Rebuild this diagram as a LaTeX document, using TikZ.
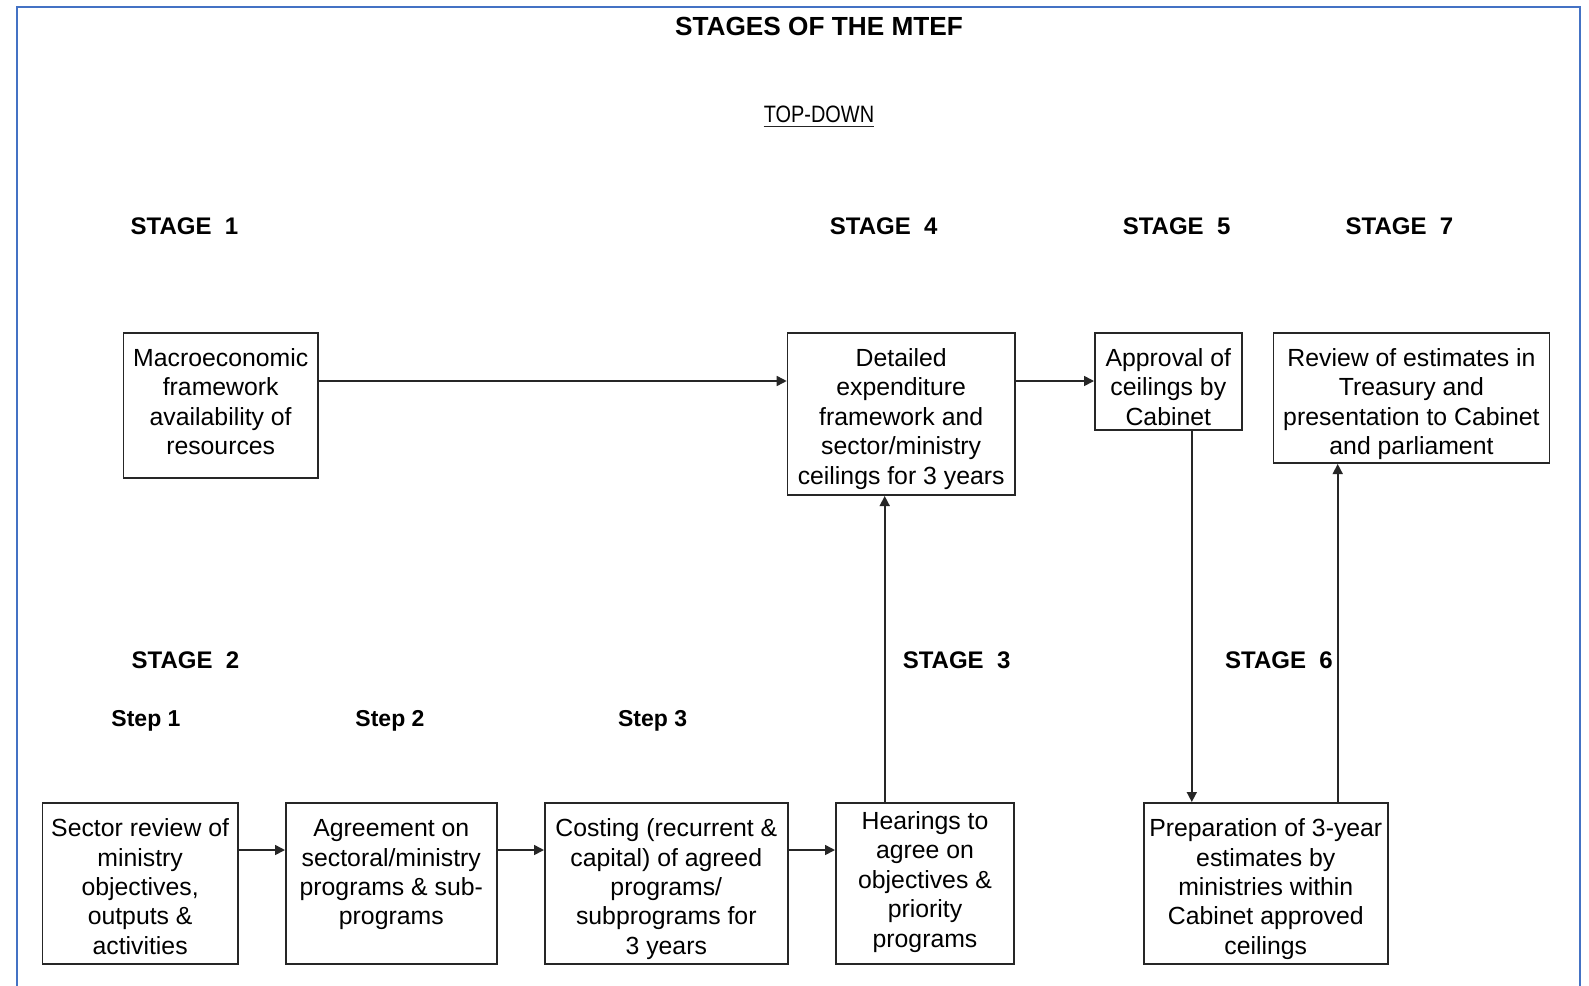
\documentclass[tikz,border=0pt]{standalone}
\usepackage{fontspec}
\setmainfont{Liberation Sans}
\usetikzlibrary{calc,arrows.meta}
\definecolor{frameblue}{HTML}{4472C4}
% centred block of lines whose baseline is that of its first line
\newcommand\boxlines[2]{\parbox[t]{#1}{\centering #2}}

\begin{document}
\begin{tikzpicture}[x=1pt,y=-1pt,
  box/.style={draw=black!85, line width=1.6pt, inner sep=0pt, anchor=north west,
              font=\fontsize{24.8}{29.4}\selectfont},
  arr/.style={draw=black!85, line width=1.6pt, -{Triangle[length=10pt,width=10pt]}},
  stagelbl/.style={anchor=base, inner sep=0pt, font=\bfseries\fontsize{24}{28}\selectfont},
  steplbl/.style={anchor=base, inner sep=0pt, font=\bfseries\fontsize{23}{28}\selectfont},
]
\useasboundingbox (0,0) rectangle (1589,985);
\clip (0,0) rectangle (1589,985);
\fill[white] (0,0) rectangle (1589,985);

% outer frame (open at the bottom edge of the page)
\draw[frameblue, line width=2pt] (16.7,1010) -- (16.7,6.7) -- (1580,6.7) -- (1580,1010);

% headings
\node[anchor=base, inner sep=0pt, font=\bfseries\fontsize{26.2}{30}\selectfont] (title) at (819,35) {STAGES OF THE MTEF};
\node[anchor=base, inner sep=0pt, font=\fontsize{23.7}{28}\selectfont] (topdown) at (819,122.7) {\scalebox{0.84}[1]{TOP-DOWN}};
\draw[black!85, line width=1.4pt] ($(topdown.base west)+(0,3.6)$) -- ($(topdown.base east)+(0,3.6)$);

% stage labels
\node[stagelbl] (s1) at (184.5,234) {STAGE\ \ 1};
\node[stagelbl] (s4) at (883.7,234) {STAGE\ \ 4};
\node[stagelbl] (s5) at (1176.6,234) {STAGE\ \ 5};
\node[stagelbl] (s7) at (1399.5,234) {STAGE\ \ 7};
\node[stagelbl] (s2) at (185.5,668.2) {STAGE\ \ 2};
\node[stagelbl] (s3) at (956.6,668.2) {STAGE\ \ 3};
\node[stagelbl] (s6) at (1279,668.2) {STAGE\ \ 6};
\node[steplbl] (st1) at (146,726.7) {Step 1};
\node[steplbl] (st2) at (390,726.7) {Step 2};
\node[steplbl] (st3) at (652.6,726.7) {Step 3};

% upper row of boxes (text height = distance from top edge to first baseline)
\node[box, minimum width=194.6pt, text height=33.2pt, text depth=111.8pt] (macro) at (122.6,332.4)
  {\boxlines{194.6pt}{Macroeconomic\\framework\\availability of\\resources}};
\node[box, minimum width=227.3pt, text height=33.2pt, text depth=128.8pt] (detail) at (786.7,332.4)
  {\boxlines{227.3pt}{Detailed\\expenditure\\framework and\\sector/ministry\\ceilings for 3 years}};
\node[box, minimum width=147pt, text height=33.2pt, text depth=63.8pt] (appr) at (1094,332.4)
  {\boxlines{147pt}{Approval of\\ceilings by\\Cabinet}};
\node[box, minimum width=275.7pt, text height=33.2pt, text depth=96.8pt] (review) at (1272.8,332.4)
  {\boxlines{275.7pt}{Review of estimates in\\Treasury and\\presentation to Cabinet\\and parliament}};

% lower row of boxes
\node[box, minimum width=195.3pt, text height=33.8pt, text depth=127.2pt] (b1) at (41.7,802)
  {\boxlines{195.3pt}{Sector review of\\ministry\\objectives,\\outputs \&\\activities}};
\node[box, minimum width=211pt, text height=33.8pt, text depth=127.2pt] (b2) at (285,802)
  {\boxlines{211pt}{Agreement on\\sectoral/ministry\\programs \& sub-\\programs}};
\node[box, minimum width=243pt, text height=33.8pt, text depth=127.2pt] (b3) at (544,802)
  {\boxlines{243pt}{Costing (recurrent \&\\capital) of agreed\\programs/\\subprograms for\\3 years}};
\node[box, minimum width=178.4pt, text height=26.7pt, text depth=134.3pt] (hear) at (835,802)
  {\boxlines{178.4pt}{Hearings to\\agree on\\objectives \&\\priority\\programs}};
\node[box, minimum width=244pt, text height=33.8pt, text depth=127.2pt] (prep) at (1143,802)
  {\boxlines{244pt}{Preparation of 3-year\\estimates by\\ministries within\\Cabinet approved\\ceilings}};

% connectors, upper row
\draw[arr] ($(macro.north east)+(0,48.6)$) -- ($(detail.north west)+(0,48.6)$);
\draw[arr] ($(detail.north east)+(0,48.6)$) -- ($(appr.north west)+(0,48.6)$);

% connectors, lower row
\draw[arr] ($(b1.north east)+(0,48)$) -- ($(b2.north west)+(0,48)$);
\draw[arr] ($(b2.north east)+(0,48)$) -- ($(b3.north west)+(0,48)$);
\draw[arr] ($(b3.north east)+(0,48)$) -- ($(hear.north west)+(0,48)$);

% vertical connectors
\draw[arr] ($(hear.north west)+(49.7,0)$) coordinate (h1) -- (h1 |- detail.south);
\draw[arr] ($(appr.south west)+(97.8,0)$) coordinate (a1) -- (a1 |- prep.north);
\draw[arr] ($(prep.north west)+(194.7,0)$) coordinate (p1) -- (p1 |- review.south);
\end{tikzpicture}
\end{document}
